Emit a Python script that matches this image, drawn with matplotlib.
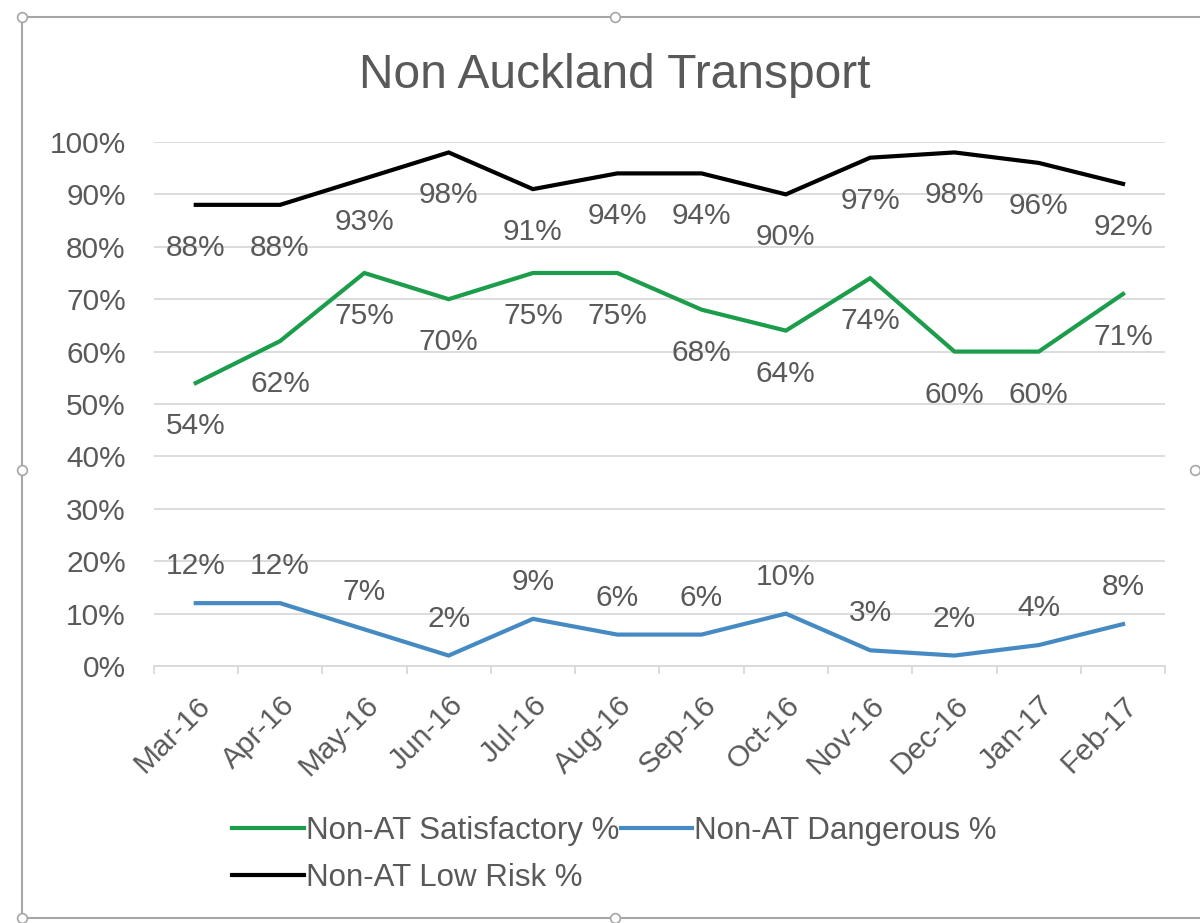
import matplotlib
matplotlib.use("Agg")
import matplotlib.pyplot as plt
from matplotlib.patches import Rectangle
from matplotlib.ticker import PercentFormatter, FixedLocator

plt.rcParams["font.family"] = ["Liberation Sans", "DejaVu Sans"]

months = ["Mar-16", "Apr-16", "May-16", "Jun-16", "Jul-16", "Aug-16",
          "Sep-16", "Oct-16", "Nov-16", "Dec-16", "Jan-17", "Feb-17"]
satisfactory = [54, 62, 75, 70, 75, 75, 68, 64, 74, 60, 60, 71]
dangerous = [12, 12, 7, 2, 9, 6, 6, 10, 3, 2, 4, 8]
low_risk = [88, 88, 93, 98, 91, 94, 94, 90, 97, 98, 96, 92]

GREEN, BLUE, BLACK = "#1c9d4b", "#468ac4", "#000000"
TXT = "#595959"

fig = plt.figure(figsize=(12, 9.23), dpi=100)
ax = fig.add_axes([0.128, 0.2784, 0.843, 0.5678])

x = list(range(len(months)))
series = [
    (satisfactory, GREEN, "Non-AT Satisfactory %", -43),
    (dangerous, BLUE, "Non-AT Dangerous %", 37),
    (low_risk, BLACK, "Non-AT Low Risk %", -43),
]
handles = {}
for vals, col, name, off in series:
    (ln,) = ax.plot(x, vals, color=col, lw=3.0, solid_joinstyle="miter",
                    label=name, clip_on=False, zorder=3)
    handles[name] = ln
    for xi, v in zip(x, vals):
        ax.annotate(f"{v}%", (xi, v), xytext=(0, off * 0.72), textcoords="offset points",
                    ha="center", va="center", fontsize=21.5, color=TXT)

ax.set_xlim(-0.5, len(months) - 0.5)
ax.set_ylim(0, 100)
ax.yaxis.set_major_locator(FixedLocator(range(0, 101, 10)))
ax.yaxis.set_major_formatter(PercentFormatter(decimals=0))
ax.grid(axis="y", color="#d9d9d9", lw=1.3)
ax.set_axisbelow(True)
for s in ["top", "right", "left"]:
    ax.spines[s].set_visible(False)
ax.spines["bottom"].set_color("#d9d9d9")
ax.spines["bottom"].set_linewidth(1.3)

ax.set_xticks(x)
ax.set_xticklabels(months, rotation=45, ha="right", va="top",
                   rotation_mode="anchor", fontsize=21.5, color=TXT)
ax.set_xticks([i - 0.5 for i in range(len(months) + 1)], minor=True)
ax.tick_params(axis="x", which="major", length=0, pad=18)
ax.tick_params(axis="x", which="minor", length=6, color="#d9d9d9", width=1.3)
ax.tick_params(axis="y", length=0, pad=20, labelsize=21.5, labelcolor=TXT)

fig.text(0.5125, 0.918, "Non Auckland Transport", ha="center", va="center",
         fontsize=34.5, color=TXT)

order = ["Non-AT Satisfactory %", "Non-AT Low Risk %", "Non-AT Dangerous %"]
fig.legend([handles[n] for n in order], order, ncol=2, loc="center",
           bbox_to_anchor=(0.512, 0.074), frameon=False, fontsize=22.5,
           labelcolor=TXT, handlelength=2.3, handletextpad=0.05,
           columnspacing=0.05, labelspacing=0.55)

# chart object frame with selection handles
fig.patches.append(Rectangle((22 / 1200, 1 - 918 / 923), 1.0, (918 - 17) / 923,
                             transform=fig.transFigure, fill=False,
                             ec="#a6a6a6", lw=1.5))
for hx, hy in [(22, 17), (615, 17), (22, 470), (1195, 470), (22, 918), (615, 918)]:
    fig.add_artist(plt.Line2D([hx / 1200], [1 - hy / 923], marker="o", ms=7,
                              mfc="white", mec="#a6a6a6", mew=1.2,
                              transform=fig.transFigure))

fig.savefig("out.png", dpi=100)
